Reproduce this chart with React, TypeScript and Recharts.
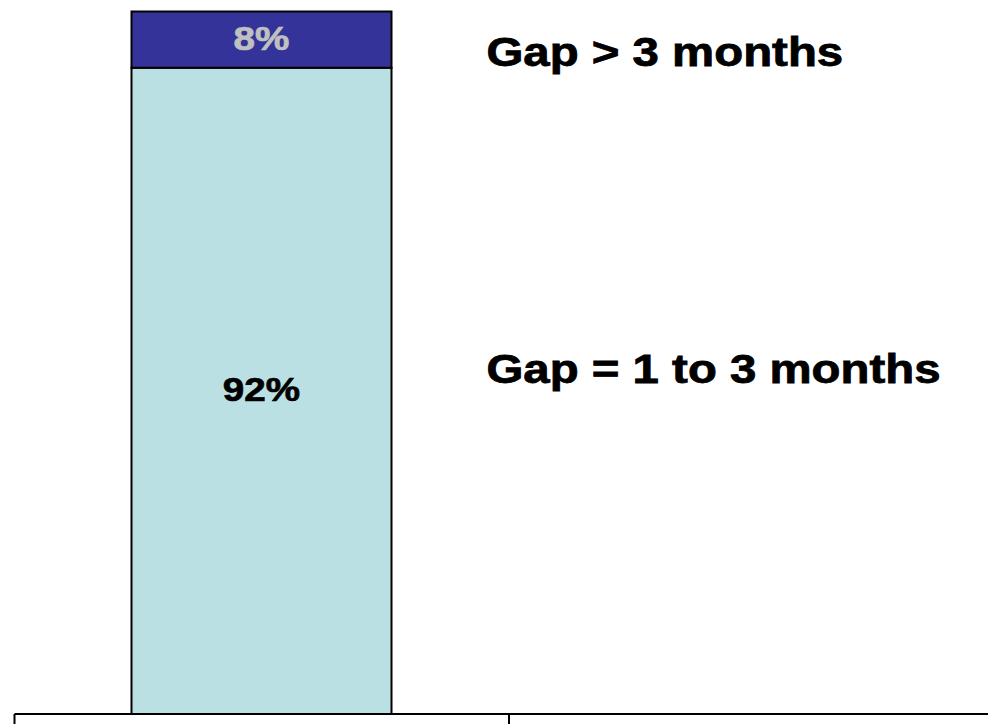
import React from "react";
import { BarChart, Bar, XAxis, YAxis, LabelList } from "recharts";

// Categories along the bottom axis; the second slot holds the series captions.
const categories = ["", " "];
// Stacked shares (%) per category.
const gapOneToThree = [92, null];
const gapOverThree = [8, null];
// Series captions.
const seriesNames = ["Gap = 1 to 3 months", "Gap > 3 months"];

const rows = categories.map((name, i) => ({
  name,
  oneToThree: gapOneToThree[i],
  overThree: gapOverThree[i],
}));

const FONT = "'Liberation Sans', Arial, Helvetica, sans-serif";
const STRETCH = 1.17;
const TICK_LENGTH = 24;

type SegmentLabelProps = {
  x?: number | string;
  y?: number | string;
  width?: number | string;
  height?: number | string;
  value?: number | string | null;
  valueColor: string;
  caption: string;
  captionDx: number;
  captionDy: number;
};

function SegmentLabel(props: SegmentLabelProps) {
  const { value, valueColor, caption, captionDx, captionDy } = props;
  if (value === null || value === undefined) return null;
  const x = Number(props.x);
  const y = Number(props.y);
  const w = Number(props.width);
  const h = Number(props.height);
  const cx = x + w / 2;
  const baseline = y + h / 2 + 10;
  return (
    <g>
      <text
        transform={`translate(${cx},${baseline}) scale(${STRETCH},1)`}
        textAnchor="middle"
        fontFamily={FONT}
        fontWeight="bold"
        fontSize={33}
        fill={valueColor}
        stroke={valueColor}
        strokeWidth={0.7}
      >
        {`${value}%`}
      </text>
      <text
        transform={`translate(${x + w + captionDx},${y + captionDy}) scale(${STRETCH},1)`}
        textAnchor="start"
        fontFamily={FONT}
        fontWeight="bold"
        fontSize={40.5}
        fill="#000000"
        stroke="#000000"
        strokeWidth={0.8}
      >
        {caption}
      </text>
    </g>
  );
}

// Tick marks sit on the category boundaries rather than the band centres.
function BoundaryTick(props: any) {
  const { x, y, payload, index } = props;
  const half = payload && typeof payload.offset === "number" && payload.offset > 0 ? payload.offset : 247.25;
  const left = x - half;
  const right = x + half;
  const isLast = index === categories.length - 1;
  return (
    <g>
      <line x1={left} y1={y} x2={left} y2={y + TICK_LENGTH} stroke="#000000" strokeWidth={2} />
      {isLast && (
        <line x1={right} y1={y} x2={right} y2={y + TICK_LENGTH} stroke="#000000" strokeWidth={2} />
      )}
    </g>
  );
}

export default function App() {
  return (
    <div
      style={{
        position: "fixed",
        left: 0,
        top: 0,
        width: 988,
        height: 724,
        overflow: "hidden",
        background: "#ffffff",
      }}
    >
      <BarChart
        width={1010}
        height={770}
        data={rows}
        margin={{ top: 11.5, right: 6.5, bottom: 26, left: 14.5 }}
      >
        <XAxis
          dataKey="name"
          height={30}
          axisLine={{ stroke: "#000000", strokeWidth: 2 }}
          tickLine={false}
          tickSize={0}
          tickMargin={0}
          interval={0}
          tick={<BoundaryTick />}
        />
        <YAxis hide domain={[0, 100]} />
        <Bar
          dataKey="oneToThree"
          name={seriesNames[0]}
          stackId="gap"
          barSize={260}
          fill="#BBE0E3"
          stroke="#000000"
          strokeWidth={2}
          isAnimationActive={false}
        >
          <LabelList
            dataKey="oneToThree"
            content={(p: any) => (
              <SegmentLabel
                {...p}
                valueColor="#000000"
                caption={seriesNames[0]}
                captionDx={95}
                captionDy={315}
              />
            )}
          />
        </Bar>
        <Bar
          dataKey="overThree"
          name={seriesNames[1]}
          stackId="gap"
          barSize={260}
          fill="#333399"
          stroke="#000000"
          strokeWidth={2}
          isAnimationActive={false}
        >
          <LabelList
            dataKey="overThree"
            content={(p: any) => (
              <SegmentLabel
                {...p}
                valueColor="#C0C0C0"
                caption={seriesNames[1]}
                captionDx={95}
                captionDy={54.5}
              />
            )}
          />
        </Bar>
      </BarChart>
    </div>
  );
}
